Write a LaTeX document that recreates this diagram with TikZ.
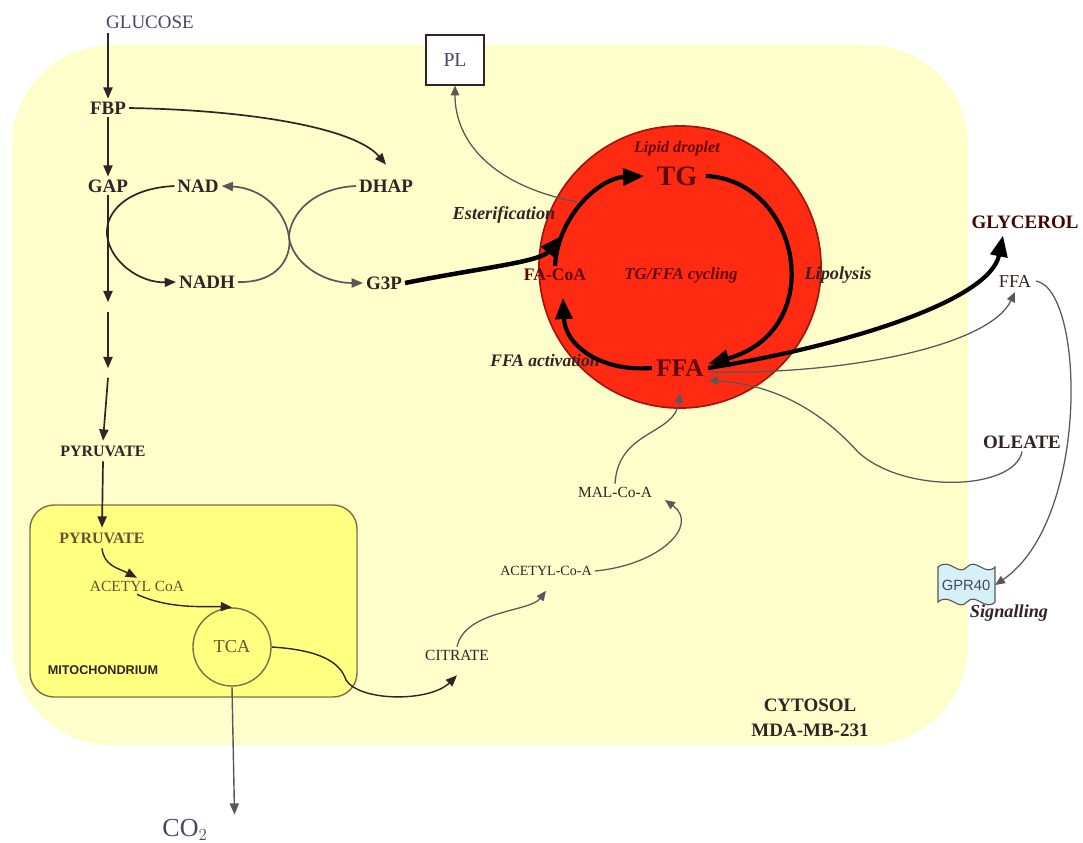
\documentclass[tikz,border=0pt]{standalone}
\usepackage{fontspec}
\setmainfont{Liberation Serif}
\setsansfont{Liberation Sans}
\usetikzlibrary{arrows.meta}

\definecolor{cyto}{RGB}{254,254,202}
\definecolor{mitofill}{RGB}{255,255,128}
\definecolor{mitoline}{RGB}{125,112,70}
\definecolor{drop}{RGB}{255,42,18}
\definecolor{dropline}{RGB}{165,20,10}
\definecolor{ink}{RGB}{52,34,36}
\definecolor{bluegrey}{RGB}{70,70,105}
\definecolor{brownish}{RGB}{110,78,48}
\definecolor{gry}{RGB}{88,88,88}
\definecolor{darkred}{RGB}{95,5,5}
\definecolor{gprfill}{RGB}{214,240,248}

\newcommand{\fsz}[1]{\fontsize{#1}{#1}\selectfont}

\begin{document}
\begin{tikzpicture}[x=0.025cm,y=-0.025cm,>={Triangle[length=8pt,width=6.5pt]},
  met/.style={font=\fsz{13.5}\bfseries, text=ink, inner sep=2pt},
  plain/.style={font=\fsz{11}, text=ink, inner sep=2pt},
  mitotext/.style={font=\fsz{11}, text=brownish, inner sep=2pt},
  note/.style={font=\fsz{13}\bfseries\itshape, text=ink, inner sep=2pt},
  big/.style={font=\fsz{20}\bfseries, text=darkred, inner sep=3pt},
  path/.style={->, draw=ink, line width=1.2pt},
  thin path/.style={->, draw=gry, line width=0.9pt, >={Triangle[length=7pt,width=6pt]}},
  bold path/.style={draw=black, line width=3pt, -{Triangle[length=15pt,width=12pt]}}]

  \useasboundingbox (0,0) rectangle (1083,842);

  % compartments
  \fill[cyto, rounded corners=2.5cm] (12,45) rectangle (968,745);
  \draw[mitoline, fill=mitofill, line width=1pt, rounded corners=0.6cm] (30,505) rectangle (357,697);
  \node[circle, draw=dropline, fill=drop, line width=1.2pt, minimum size=7.05cm] (droplet) at (680,267) {};

  % glycolysis
  \node[font=\fsz{13.5}, text=bluegrey] (glc) at (150,22) {GLUCOSE};
  \node[met] (fbp) at (108,108) {FBP};
  \node[met] (gap) at (108,186) {GAP};
  \node[met] (nad) at (198,186) {NAD};
  \node[met] (dhap) at (386,186) {DHAP};
  \node[met] (nadh) at (207,282) {NADH};
  \node[met] (g3p) at (384,283) {G3P};
  \coordinate (st1) at (108,307);
  \coordinate (st2) at (108,373);
  \node[font=\fsz{11.3}\bfseries, text=ink] (pyrc) at (103,451) {PYRUVATE};
  \node[draw=ink, fill=white, line width=0.8pt, minimum width=1.45cm, minimum height=1.25cm,
        font=\fsz{14}, text=bluegrey] (pl) at (455,60) {PL};

  % mitochondrion
  \node[font=\fsz{11.3}\bfseries, text=brownish] (pyrm) at (102,538) {PYRUVATE};
  \node[mitotext] (acm) at (137,586) {ACETYL CoA};
  \node[circle, draw=mitoline, fill=mitofill, line width=1pt, minimum size=1.95cm,
        font=\fsz{13}, text=brownish] (tca) at (232,647) {TCA};
  \node[font=\sffamily\bfseries\fsz{9}, text=ink] (mitolbl) at (103,670) {MITOCHONDRIUM};
  \node[font=\fsz{18.5}, text=bluegrey] (co2) at (185,830) {CO$_2$};

  % cytosol
  \node[plain] (cit) at (457,655) {CITRATE};
  \node[plain, font=\fsz{10}] (acc) at (546,571) {ACETYL-Co-A};
  \node[plain] (mal) at (615,492) {MAL-Co-A};
  \node[met] (cytlbl) at (810,705) {CYTOSOL};
  \node[met] (celllbl) at (810,730) {MDA-MB-231};

  % lipid droplet
  \node[font=\fsz{11.5}\bfseries\itshape, text=darkred] (ldlbl) at (677,149) {Lipid droplet};
  \node[big] (tg) at (677,176) {TG};
  \node[big, font=\fsz{18}\bfseries] (ffa) at (680,368) {FFA};
  \node[met, font=\fsz{12.5}\bfseries, text=darkred] (faco) at (555,275) {FA-CoA};
  \node[font=\fsz{12}\bfseries\itshape, text=darkred] (cyc) at (681,275) {TG/FFA cycling};
  \node[note] (ester) at (504,215) {Esterification};
  \node[note, font=\fsz{12.5}\bfseries\itshape] (act) at (545,360) {FFA activation};
  \node[note] (lipo) at (838,275) {Lipolysis};
  \coordinate (est) at (577,202);
  \coordinate (merge) at (561,236);

  % outside
  \node[met, text=darkred!70!black] (glyc) at (1025,222) {GLYCEROL};
  \node[font=\fsz{13}, text=ink] (ffaout) at (1015,281) {FFA};
  \node[met] (ole) at (1022,442) {OLEATE};
  \draw[gry, fill=gprfill, line width=0.8pt]
    (938,567) .. controls (950,557) and (958,577) .. (967,567)
    .. controls (976,557) and (985,577) .. (995,567) -- (995,602)
    .. controls (985,612) and (976,592) .. (967,602)
    .. controls (958,612) and (950,592) .. (938,602) -- cycle;
  \node[font=\sffamily\fsz{10.5}, text=bluegrey, minimum width=1.43cm, minimum height=0.88cm] (gpr) at (966,585) {GPR40};
  \node[note] (sig) at (1009,613) {Signalling};

  % glycolysis arrows
  \draw[path] (fbp |- glc.south) -- (fbp.north);
  \draw[path] (fbp.south) -- (gap.north);
  \draw[path] (gap.south) -- ([yshift=0.12cm]st1);
  \draw[path] ([yshift=-0.12cm]st1) -- ([yshift=0.12cm]st2);
  \draw[path] ([yshift=-0.12cm]st2) -- (pyrc.north);
  \draw[path] (fbp.east) .. controls (250,110) and (355,128) .. ([yshift=0.3cm]dhap.north);
  \draw[path] (nad.west) .. controls (130,188) and (105,210) .. (107,235)
    .. controls (110,262) and (140,283) .. (nadh.west);
  \draw[path, draw=gry] (nadh.east) .. controls (280,283) and (292,255) .. (289,237)
    .. controls (285,210) and (262,188) .. (nad.east);
  \draw[path, draw=gry] (dhap.west) .. controls (312,188) and (290,215) .. (289,237)
    .. controls (292,262) and (322,283) .. (g3p.west);

  % mitochondrion arrows
  \draw[path] (pyrc.south) -- (pyrm.north);
  \draw[path, line width=1pt] (pyrm.south) .. controls (104,566) and (118,568) .. (acm.north);
  \draw[path, line width=1pt] (acm.south) .. controls (170,610) and (210,606) .. (tca.north);
  \draw[path, draw=gry, line width=1pt] (tca.south) -- ([xshift=0.55cm]co2.north east);
  \draw[path, line width=1pt] (tca.east) .. controls (320,650) and (340,662) .. (346,680)
    .. controls (360,702) and (430,702) .. ([yshift=-0.3cm]cit.south);

  % cytosol arrows
  \draw[thin path] (cit.north) .. controls (465,610) and (530,612) .. ([yshift=-0.3cm]acc.south);
  \draw[thin path] (acc.east) .. controls (660,565) and (700,525) .. ([xshift=0.25cm,yshift=-0.2cm]mal.east);
  \draw[thin path] (mal.north) .. controls (618,430) and (675,435) .. ([yshift=-0.3cm]ffa.south);
  \draw[thin path] (est) .. controls (490,185) and (455,140) .. (pl.south);

  % TG/FFA cycle
  \draw[bold path, line width=3.2pt] (g3p.east) .. controls (480,268) and (540,262) .. (merge);
  \draw[bold path] (faco.north) .. controls (558,215) and (600,178) .. ([xshift=-0.2cm]tg.west);
  \draw[bold path] ([xshift=0.1cm]tg.east) .. controls (800,180) and (830,330) .. ([yshift=0.1cm]ffa.east);
  \draw[bold path] (ffa.west) .. controls (600,372) and (565,345) .. ([xshift=0.2cm,yshift=-0.35cm]faco.south);
  \draw[bold path] (ffa.east) .. controls (850,345) and (990,300) .. ([xshift=-0.55cm,yshift=-0.1cm]glyc.south);

  % exchange with medium
  \draw[thin path] ([yshift=-0.1cm]ffa.east) .. controls (850,375) and (990,345) .. (ffaout.south);
  \draw[thin path] (ffaout.east) .. controls (1085,290) and (1090,520) .. (gpr.east);
  \draw[thin path] (ole.south) .. controls (1015,490) and (905,495) .. (858,452)
    .. controls (820,410) and (775,385) .. ([yshift=-0.3cm]ffa.east);
\end{tikzpicture}
\end{document}
